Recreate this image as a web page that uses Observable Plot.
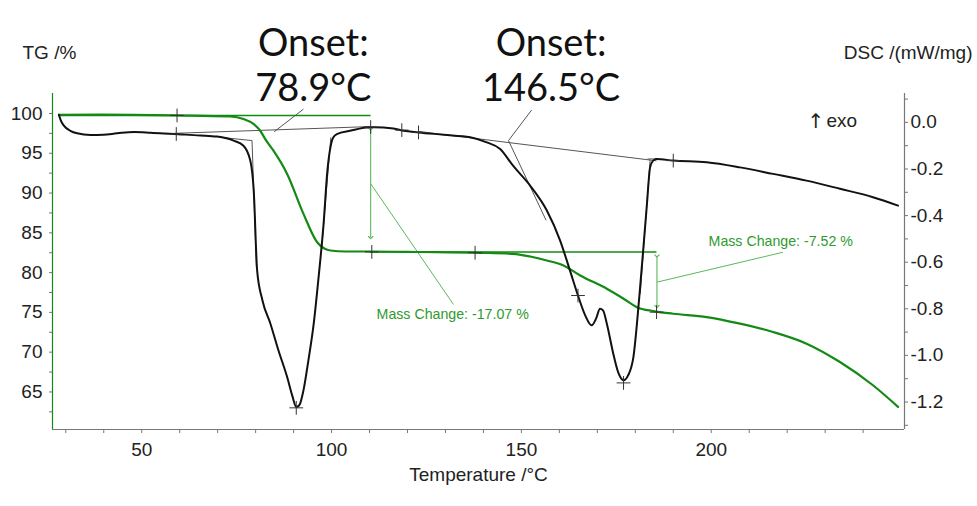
<!DOCTYPE html>
<html>
<head>
<meta charset="utf-8">
<script src="https://cdn.jsdelivr.net/npm/d3@7"></script>
<script src="https://cdn.jsdelivr.net/npm/@observablehq/plot@0.6"></script>
<style>
  html, body { margin: 0; padding: 0; background: #fff; }
  #chart svg { display: block; }
</style>
</head>
<body>
<div id="chart"></div>
<script>
// ---------- DSC curve (Temperature °C, DSC mW/mg) ----------
const dscTemp = [28.2, 28.6, 29.5, 31.2, 33.0, 36.5, 39.9, 43.5, 47.9, 52.3, 58.4, 65.4, 69.8, 74.2, 76.8,
  78.6, 79.5, 80.4, 81.8, 83.9, 86.0, 88.3, 89.7, 90.7, 91.5, 92.6, 93.9, 95.3, 96.5, 97.9, 98.9, 99.7,
  100.4, 101.4, 104.9, 110.2, 111.1, 116.3, 119.0, 122.9, 129.5, 136.5, 140.9, 144.4, 147.8, 152.3,
  156.7, 160.2, 162.8, 164.9, 166.8, 168.5, 169.7, 170.7, 171.5, 172.5, 174.2, 175.5, 176.9, 178.1,
  179.5, 181.2, 183.0, 183.9, 184.7, 185.6, 190.0, 198.8, 207.6, 216.3, 225.1, 233.9, 242.6, 249.2];
const dscValue = [0.033, 0.012, -0.014, -0.036, -0.047, -0.054, -0.053, -0.047, -0.041, -0.044, -0.050, -0.056, -0.061, -0.078, -0.100,
  -0.164, -0.293, -0.636, -0.764, -0.864, -0.978, -1.093, -1.176, -1.221, -1.214, -1.150, -1.021, -0.864, -0.678, -0.435, -0.207, -0.107,
  -0.066, -0.050, -0.036, -0.021, -0.021, -0.026, -0.036, -0.043, -0.053, -0.064, -0.086, -0.114, -0.186, -0.271,
  -0.378, -0.507, -0.636, -0.743, -0.828, -0.871, -0.841, -0.800, -0.807, -0.864, -0.993, -1.073, -1.107, -1.086,
  -1.007, -0.721, -0.364, -0.193, -0.164, -0.157, -0.164, -0.171, -0.193, -0.221, -0.250, -0.285, -0.321, -0.357];

// ---------- TG curve (Temperature °C, mass %) ----------
const tgTemp = [28.2, 39.1, 59.3, 73.3, 76.8, 79.5, 81.2, 82.8, 84.7, 88.3, 92.6, 96.2, 98.1, 99.7, 103.6, 110.2,
  123.3, 139.1, 147.9, 152.3, 156.7, 161.1, 165.5, 172.5, 176.9, 180.4, 184.7, 190.0, 198.8, 207.6, 216.3,
  225.1, 233.9, 242.6, 249.2];
const tgValue = [99.84, 99.85, 99.75, 99.62, 99.30, 98.67, 97.83, 96.58, 95.32, 92.40, 87.38, 83.82, 83.03, 82.78, 82.65, 82.65,
  82.59, 82.49, 82.36, 82.02, 81.52, 80.89, 79.64, 77.97, 76.72, 75.66, 75.16, 74.83, 74.41, 73.58, 72.53,
  71.07, 68.76, 65.84, 63.12];

// ---------- axes ----------
const tempDomain = [26.5, 250.9];
const tgDomain = [60.28, 102.51];
const dscDomain = [-1.318, 0.124];
const tempTicks = [50, 100, 150, 200];
const tempMinorTicks = [30, 40, 60, 70, 80, 90, 110, 120, 130, 140, 160, 170, 180, 190, 210, 220, 230, 240];
const tgTicks = [65, 70, 75, 80, 85, 90, 95, 100];
const tgMinorTicks = [62.5, 67.5, 72.5, 77.5, 82.5, 87.5, 92.5, 97.5];
const dscTicks = [0, -0.2, -0.4, -0.6, -0.8, -1.0, -1.2];
const dscMinorTicks = [0.1, -0.1, -0.3, -0.5, -0.7, -0.9, -1.1, -1.3];

// ---------- TG evaluation annotations ----------
const tgBaseStart = [28.2, 110.2];
const tgBaseEnd = [110.4, 185.7];
const tgBaseLevel = [99.75, 82.58];
const massArrowTemp = [110.3, 185.7];
const massArrowTop = [98.05, 82.1];
const massArrowBottom = [84.4, 75.75];
const massLeaderStartTG = [91.18, 78.8];
const massLeaderEndTemp = [132.1, 218.9];
const massLeaderEndTG = [76.0, 82.56];
const massLabels = ["Mass Change: -17.07 %", "Mass Change: -7.52 %"];
const massLabelTemp = [131.9, 218.3];
const massLabelTG = [74.7, 83.95];
const tgMarkTemp = [59.3, 110.6, 137.8, 185.6];
const tgMarkValue = [99.75, 82.6, 82.5, 75.03];

// ---------- DSC evaluation annotations (segments) ----------
const dscSegStartTemp = [58.4, 123.0, 70.7, 79.05, 99.8, 146.6, 183.9, 183.2, 84.9, 146.6];
const dscSegStartVal  = [-0.047, -0.039, -0.064, -0.078, -0.065, -0.078, -0.160, -0.157, -0.040, -0.078];
const dscSegEndTemp   = [110.2, 185.6, 79.05, 80.2, 97.3, 156.5, 181.3, 185.6, 92.6, 152.7];
const dscSegEndVal    = [-0.018, -0.165, -0.078, -0.62, -0.56, -0.42, -0.735, -0.157, 0.057, 0.053];
const dscMarkTemp = [59.1, 90.7, 110.3, 118.5, 122.9, 164.9, 176.9, 190.0];
const dscMarkValue = [-0.050, -1.225, -0.020, -0.033, -0.043, -0.743, -1.118, -0.164];

// ---------- text ----------
const onsetTemp = [95.2, 157.8];
const onsetLines1 = ["Onset:", "Onset:"];
const onsetLines2 = ["78.9°C", "146.5°C"];

const GREEN = "#138a13";
const LIGHT_GREEN = "#5cb85c";
const LABEL_GREEN = "#2f9a2f";
const AXIS_GREY = "#777";

const dscToY = d => tgDomain[0] + (d - dscDomain[0]) * (tgDomain[1] - tgDomain[0]) / (dscDomain[1] - dscDomain[0]);
const yToDsc = y => dscDomain[0] + (y - tgDomain[0]) * (dscDomain[1] - dscDomain[0]) / (tgDomain[1] - tgDomain[0]);

const dscData = dscTemp.map((t, i) => ({t, v: dscToY(dscValue[i])}));
const tgData = tgTemp.map((t, i) => ({t, v: tgValue[i]}));
const idx = n => d3.range(n);

const chart = Plot.plot({
  width: 977,
  height: 506,
  marginLeft: 52,
  marginRight: 73,
  marginTop: 93,
  marginBottom: 77,
  style: {fontFamily: "'Liberation Sans', Arial, sans-serif", fontSize: "19px", color: "#222", background: "#fff"},
  x: {domain: tempDomain},
  y: {domain: tgDomain},
  marks: [
    // frame lines
    Plot.ruleX([tempDomain[0]], {stroke: GREEN, strokeWidth: 1.2}),
    Plot.ruleX([tempDomain[1]], {stroke: AXIS_GREY, strokeWidth: 1.2}),
    Plot.ruleY([tgDomain[0]], {stroke: AXIS_GREY, strokeWidth: 1.2}),
    // x axis
    Plot.axisX({ticks: tempTicks, tickSize: 4, tickPadding: 9, stroke: AXIS_GREY, fill: "#222", fontSize: 19, label: null}),
    Plot.axisX({ticks: tempMinorTicks, tickSize: 4, text: null, stroke: AXIS_GREY, label: null}),
    // left axis
    Plot.axisY({ticks: tgTicks, tickSize: 3, tickPadding: 7, stroke: AXIS_GREY, fill: "#222", fontSize: 19, label: null}),
    Plot.axisY({ticks: tgMinorTicks, tickSize: 3, text: null, stroke: AXIS_GREY, label: null}),
    // right axis (DSC)
    Plot.axisY(dscTicks.map(dscToY), {anchor: "right", tickSize: 3, tickPadding: 3, stroke: AXIS_GREY, fill: "#222", fontSize: 19, label: null,
      tickFormat: y => { const v = yToDsc(y); return (Math.abs(v) < 1e-6 ? 0 : v).toFixed(1); }}),
    Plot.axisY(dscMinorTicks.map(dscToY), {anchor: "right", tickSize: 3, text: null, stroke: AXIS_GREY, label: null}),

    // TG evaluation
    Plot.ruleY(idx(2), {y: i => tgBaseLevel[i], x1: i => tgBaseStart[i], x2: i => tgBaseEnd[i], stroke: GREEN, strokeWidth: 1.4}),
    Plot.link(idx(2), {x1: i => massArrowTemp[i], x2: i => massArrowTemp[i], y1: i => massArrowTop[i], y2: i => massArrowBottom[i],
      stroke: LIGHT_GREEN, strokeWidth: 1.1, markerStart: "arrow", markerEnd: "arrow"}),
    Plot.link(idx(2), {x1: i => massArrowTemp[i], y1: i => massLeaderStartTG[i], x2: i => massLeaderEndTemp[i], y2: i => massLeaderEndTG[i],
      stroke: LIGHT_GREEN, strokeWidth: 1}),
    Plot.text(idx(2), {x: i => massLabelTemp[i], y: i => massLabelTG[i], text: i => massLabels[i], fill: LABEL_GREEN,
      fontFamily: "'Liberation Sans', Arial, sans-serif", fontSize: 14.2}),

    // DSC evaluation
    Plot.link(idx(dscSegStartTemp.length), {x1: i => dscSegStartTemp[i], y1: i => dscToY(dscSegStartVal[i]),
      x2: i => dscSegEndTemp[i], y2: i => dscToY(dscSegEndVal[i]), stroke: "#555", strokeWidth: 1}),

    // curves
    Plot.line(tgData, {x: "t", y: "v", stroke: GREEN, strokeWidth: 2.2, curve: "monotone-x"}),
    Plot.line(dscData, {x: "t", y: "v", stroke: "#111", strokeWidth: 2, curve: "monotone-x"}),

    // "+" markers
    Plot.dot(idx(tgMarkTemp.length), {x: i => tgMarkTemp[i], y: i => tgMarkValue[i], symbol: "plus", r: 4.5, stroke: "#333", strokeWidth: 1}),
    Plot.dot(idx(dscMarkTemp.length), {x: i => dscMarkTemp[i], y: i => dscToY(dscMarkValue[i]), symbol: "plus", r: 4.5, stroke: "#333", strokeWidth: 1}),

    // titles
    Plot.text(idx(2), {x: i => onsetTemp[i], text: i => onsetLines1[i], frameAnchor: "top", dy: -64,
      fontFamily: "Lato, 'Open Sans', sans-serif", fontSize: 38, fill: "#111"}),
    Plot.text(idx(2), {x: i => onsetTemp[i], text: i => onsetLines2[i], frameAnchor: "top", dy: -19,
      fontFamily: "Lato, 'Open Sans', sans-serif", fontSize: 38, fill: "#111"}),
    Plot.text(["TG /%"], {frameAnchor: "top-left", dx: -30, dy: -48, textAnchor: "start", fontSize: 19, fill: "#222"}),
    Plot.text(["DSC /(mW/mg)"], {frameAnchor: "top-right", dx: 68, dy: -48, textAnchor: "end", fontSize: 19, fill: "#222"}),
    Plot.text(["↑"], {frameAnchor: "top-right", dx: -97, dy: 20, textAnchor: "start", fontSize: 20, fill: "#222",
      fontFamily: "'DejaVu Sans', sans-serif"}),
    Plot.text(["exo"], {frameAnchor: "top-right", dx: -78, dy: 20, textAnchor: "start", fontSize: 19, fill: "#222"}),
    Plot.text(["Temperature /°C"], {frameAnchor: "bottom", dy: 51, fontSize: 19, fill: "#222"})
  ]
});
document.getElementById("chart").appendChild(chart);
</script>
</body>
</html>
